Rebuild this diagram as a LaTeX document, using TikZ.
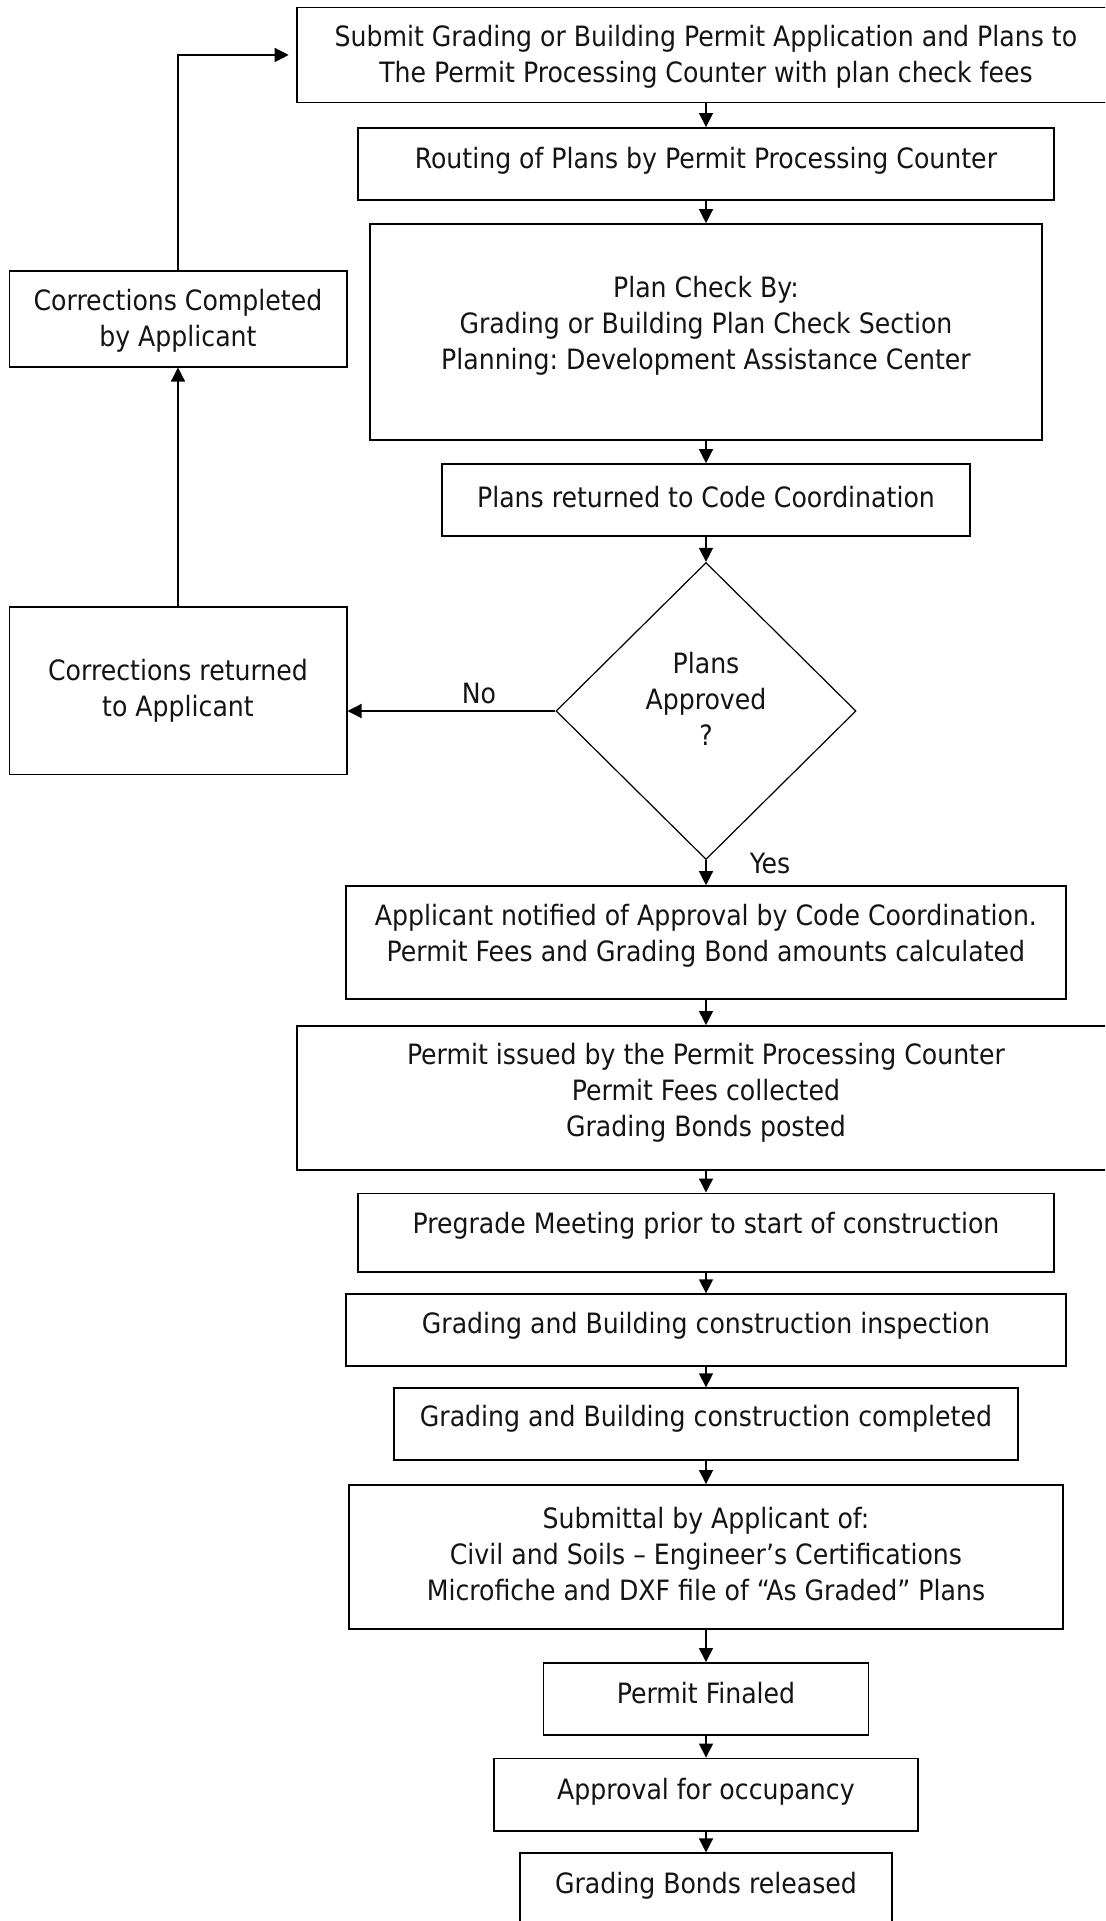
\documentclass[tikz,border=0pt]{standalone}
\usepackage{fontspec}
\setmainfont{DejaVu Sans Condensed}
\usetikzlibrary{arrows.meta,shapes.geometric,calc}
\frenchspacing
\begin{document}
\begin{tikzpicture}[x=1pt,y=-1pt,
  box/.style={draw=black,line width=1.6pt,rectangle,inner sep=0pt},
  txt/.style={align=center,font=\fontsize{28}{36}\selectfont,text=black!92,inner sep=0pt},
  conn/.style={draw=black,line width=1.3pt,-{Triangle[length=14pt,width=14pt]}},
]
\path[use as bounding box] (0,0) rectangle (1105,1921);
\clip (0,0) rectangle (1105,1921);

\node[box,minimum width=818pt,minimum height=95pt,
  label={[txt,yshift=-2pt]center:{Submit Grading or Building Permit Application and Plans to\\The Permit Processing Counter with plan check fees}}] (submit) at (706,55) {};
\node[box,minimum width=696pt,minimum height=72.3pt,
  label={[txt,yshift=3pt]center:{Routing of Plans by Permit Processing Counter}}] (routing) at (706,164) {};
\node[box,minimum width=672pt,minimum height=216pt,
  label={[txt,yshift=6pt]center:{Plan Check By:\\Grading or Building Plan Check Section\\Planning: Development Assistance Center}}] (plancheck) at (706,332) {};
\node[box,minimum width=528pt,minimum height=72pt,
  label={[txt,yshift=3pt]center:{Plans returned to Code Coordination}}] (plansret) at (706,500) {};
\node[diamond,draw=black,line width=1.2pt,minimum width=300pt,minimum height=297pt,inner sep=0pt,
  label={[txt,yshift=12pt]center:{Plans\\Approved\\?}}] (dec) at (706,711) {};
\node[box,minimum width=720pt,minimum height=113pt,
  label={[txt,yshift=6.5pt]center:{Applicant notified of Approval by Code Coordination.\\Permit Fees and Grading Bond amounts calculated}}] (notified) at (706,942.5) {};
\node[box,minimum width=818pt,minimum height=144.3pt,
  label={[txt,yshift=5pt]center:{Permit issued by the Permit Processing Counter\\Permit Fees collected\\Grading Bonds posted}}] (issued) at (706,1098) {};
\node[box,minimum width=696pt,minimum height=78.4pt,
  label={[txt,yshift=6.5pt]center:{Pregrade Meeting prior to start of construction}}] (pregrade) at (706,1232.5) {};
\node[box,minimum width=720pt,minimum height=71.7pt,
  label={[txt,yshift=4pt]center:{Grading and Building construction inspection}}] (insp) at (706,1330) {};
\node[box,minimum width=624pt,minimum height=71.7pt,
  label={[txt,yshift=5pt]center:{Grading and Building construction completed}}] (compl) at (706,1424) {};
\node[box,minimum width=714pt,minimum height=144.3pt,
  label={[txt,yshift=2.5pt]center:{Submittal by Applicant of:\\Civil and Soils – Engineer’s Certifications\\Microfiche and DXF file of “As Graded” Plans}}] (submittal) at (706,1557) {};
\node[box,minimum width=325pt,minimum height=72.3pt,
  label={[txt,yshift=6pt]center:{Permit Finaled}}] (finaled) at (706,1699) {};
\node[box,minimum width=424pt,minimum height=72.7pt,
  label={[txt,yshift=3pt]center:{Approval for occupancy}}] (occup) at (706,1794.7) {};
\node[box,minimum width=372pt,minimum height=72.5pt,
  label={[txt,yshift=4pt]center:{Grading Bonds released}}] (bonds) at (706,1889.5) {};

\node[box,minimum width=337.4pt,minimum height=96pt,
  label={[txt,yshift=-2pt]center:{Corrections Completed\\by Applicant}}] (corrcomp) at (178,318.7) {};
\node[box,minimum width=337.4pt,minimum height=167.6pt,
  label={[txt,yshift=-0.5pt]center:{Corrections returned\\to Applicant}}] (corrret) at (178,690.5) {};

\node[txt] (no) at (479,693) {No};
\node[txt] (yes) at (770,863) {Yes};

\draw[conn] (submit) -- (routing);
\draw[conn] (routing) -- (plancheck);
\draw[conn] (plancheck) -- (plansret);
\draw[conn] (plansret) -- (dec.north);
\draw[conn] (dec.south) -- (notified);
\draw[conn] (notified) -- (issued);
\draw[conn] (issued) -- (pregrade);
\draw[conn] (pregrade) -- (insp);
\draw[conn] (insp) -- (compl);
\draw[conn] (compl) -- (submittal);
\draw[conn] (submittal) -- (finaled);
\draw[conn] (finaled) -- (occup);
\draw[conn] (occup) -- (bonds);
\draw[conn] (dec.west) -- (dec.west -| corrret.east);
\draw[conn] (corrret) -- (corrcomp);
\draw[conn,shorten >=7.5pt] (corrcomp.north) |- (submit.west);
\end{tikzpicture}
\end{document}
